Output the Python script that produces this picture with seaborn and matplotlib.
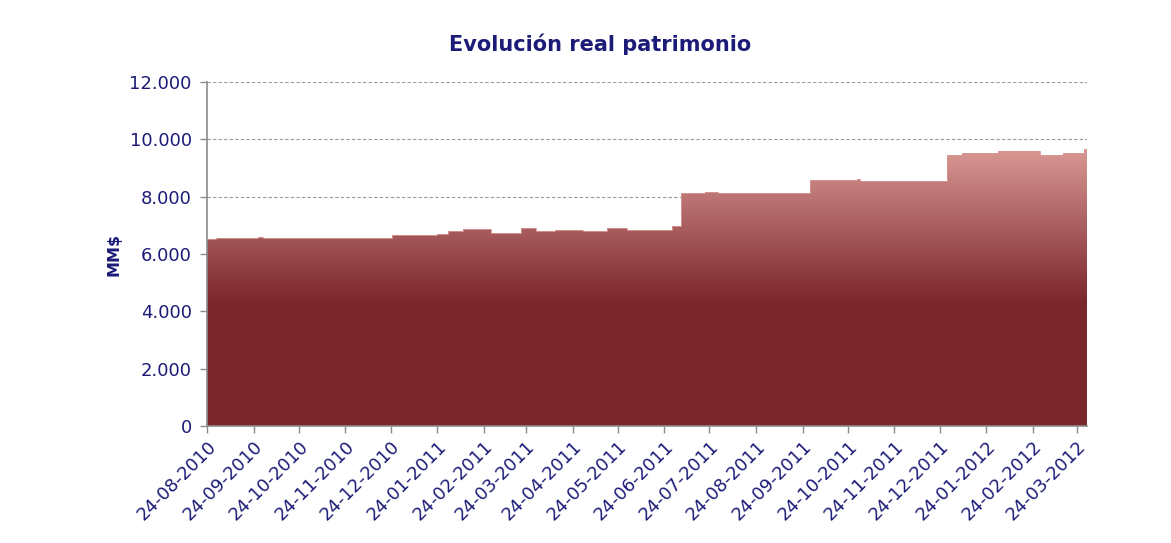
import numpy as np
import matplotlib

matplotlib.use("Agg")
import matplotlib.pyplot as plt  # noqa: E402
import matplotlib.dates as mdates  # noqa: E402
import matplotlib.ticker as mticker  # noqa: E402
from matplotlib.colors import LinearSegmentedColormap  # noqa: E402
import pandas as pd  # noqa: E402
import seaborn as sns  # noqa: E402

# step points (date where the level starts, MM$)
fechas = [
    "2010-08-24", "2010-08-30", "2010-09-27", "2010-09-30", "2010-12-25",
    "2011-01-24", "2011-01-31", "2011-02-10", "2011-03-01", "2011-03-21",
    "2011-03-31", "2011-04-12", "2011-05-01", "2011-05-17", "2011-05-30",
    "2011-06-29", "2011-07-05", "2011-07-21", "2011-07-30", "2011-09-29",
    "2011-10-30", "2011-11-01", "2011-12-29", "2012-01-08", "2012-02-01",
    "2012-02-29", "2012-03-15", "2012-03-29", "2012-03-31",
]
patrimonio = [
    6510, 6560, 6600, 6560, 6650,
    6710, 6790, 6860, 6720, 6900,
    6790, 6850, 6790, 6900, 6850,
    6960, 8120, 8170, 8130, 8580,
    8610, 8560, 9470, 9510, 9600,
    9450, 9510, 9660, 9660,
]
y_ticks = [0, 2000, 4000, 6000, 8000, 10000, 12000]
primer_tick = "2010-08-24"
ultimo_tick = "2012-03-24"

NAVY = "#1c1c78"
GRIS = "#8c8c8c"
OSCURO = "#7b262c"
CLARO = "#d99894"

df = pd.DataFrame({"fecha": pd.to_datetime(fechas), "valor": patrimonio})

sns.set_theme(style="white")
plt.rcParams["font.family"] = ["DejaVu Sans"]

fig = plt.figure(figsize=(11.71, 5.43), dpi=100)
ax = fig.add_axes([0.1768, 0.2155, 0.9283 - 0.1768, 0.849 - 0.2155])

x0 = mdates.date2num(df["fecha"].iloc[0])
x1 = mdates.date2num(df["fecha"].iloc[-1])

# area with vertical gradient clipped to the step fill
poly = ax.fill_between(df["fecha"], df["valor"], 0, step="post",
                       facecolor="none", edgecolor="none")
cmap = LinearSegmentedColormap.from_list("granate", [OSCURO, CLARO])
yy = np.linspace(0, 12000, 400)
grad = np.clip((yy - 4300) / (9700 - 4300), 0, 1)[:, None]
im = ax.imshow(grad, cmap=cmap, aspect="auto", origin="lower",
               extent=[x0, x1, 0, 12000], interpolation="bilinear", zorder=2)
im.set_clip_path(poly.get_paths()[0], transform=ax.transData)

sns.lineplot(data=df, x="fecha", y="valor", drawstyle="steps-post",
             color=CLARO, lw=0.6, ax=ax, zorder=3)

ax.set_xlim(x0, x1)
ax.set_ylim(0, 12000)

ax.set_yticks(y_ticks)
ax.yaxis.set_major_formatter(
    mticker.FuncFormatter(lambda v, _: f"{v:,.0f}".replace(",", "."))
)
for yv in y_ticks[1:]:
    ax.axhline(yv, color="#9a9a9a", lw=0.8, ls=(0, (3, 2)), zorder=1)

ticks = pd.date_range(primer_tick, ultimo_tick, freq=pd.DateOffset(months=1))
ax.set_xticks(ticks)
ax.xaxis.set_major_formatter(mdates.DateFormatter("%d-%m-%Y"))
plt.setp(ax.get_xticklabels(), rotation=45, ha="right", rotation_mode="anchor")

ax.tick_params(axis="both", direction="out", length=5, width=1, color=GRIS,
               labelcolor=NAVY, labelsize=13, bottom=True, left=True)
ax.tick_params(axis="y", pad=6)
ax.tick_params(axis="x", pad=3)
for side in ["top", "right"]:
    ax.spines[side].set_visible(False)
for side in ["left", "bottom"]:
    ax.spines[side].set_color(GRIS)
    ax.spines[side].set_linewidth(1.2)

ax.set_xlabel("")
ax.set_ylabel("MM$", color=NAVY, fontsize=11.5, fontweight="bold", labelpad=6)
fig.text(600 / 1171, 1 - 44 / 543, "Evolución real patrimonio", color=NAVY,
         fontsize=15, fontweight="bold", ha="center", va="center")

fig.savefig("out.png", dpi=100, facecolor="white")
